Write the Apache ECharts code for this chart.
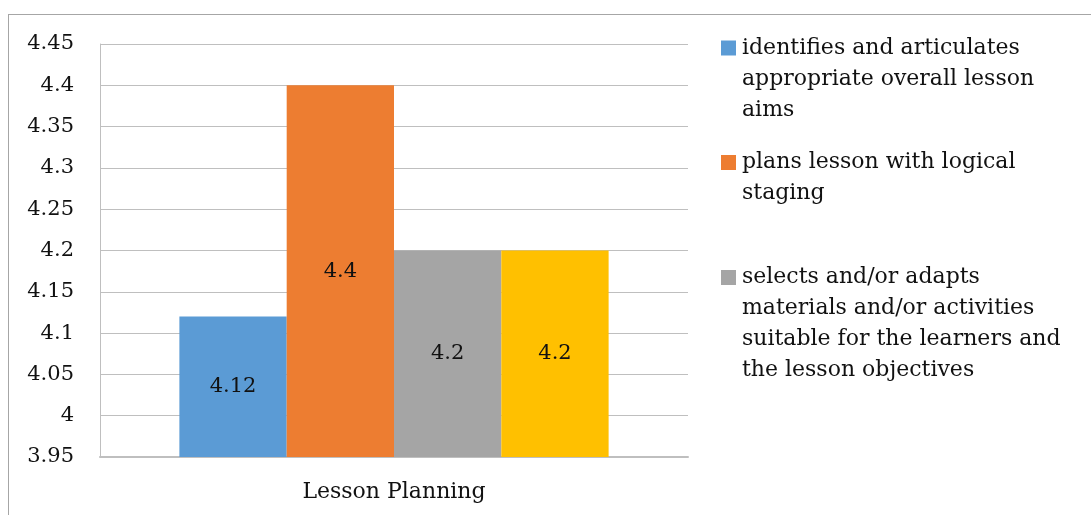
<!DOCTYPE html>
<html>
<head>
<meta charset="utf-8">
<script src="https://cdn.jsdelivr.net/npm/echarts@6/dist/echarts.min.js"></script>
<style>
  html, body { margin: 0; padding: 0; background: #fff; }
  .frame { position: absolute; left: 8px; top: 14px; width: 1100px; height: 520px;
           border-left: 1px solid #a6a6a6; border-top: 1px solid #a6a6a6; }
  .chart { position: absolute; left: 0; top: 0; width: 1091px; height: 515px; }
</style>
</head>
<body>
<div class="frame"></div>
<div class="chart"></div>
<script>
const categories = ['Lesson Planning'];
const seriesNames = [
  'identifies and articulates appropriate overall lesson aims',
  'plans lesson with logical staging',
  'selects and/or adapts materials and/or activities suitable for the learners and the lesson objectives',
  'series 4'
];
const legendLines = [
  'identifies and articulates\nappropriate overall lesson\naims',
  'plans lesson with logical\nstaging',
  'selects and/or adapts\nmaterials and/or activities\nsuitable for the learners and\nthe lesson objectives'
];
const values = [[4.12], [4.4], [4.2], [4.2]];
const colors = ['#5b9bd5', '#ed7d31', '#a5a5a5', '#ffc000'];

const font = 'DejaVu Serif';
const fs = 21;
const lh = 31;
// centre of the legend square / first text line
const legendCentres = [48, 162.5, 277.5];

const chart = echarts.init(document.querySelector('.chart'));

// the icon is centred on the text block, so blank lines are put in front
// to make the first real line sit in the middle
const legends = legendCentres.map((c, i) => {
  const n = legendLines[i].split('\n').length;
  return {
    data: [seriesNames[i]],
    left: 721,
    top: c - (2 * n - 1) * lh / 2,
    icon: 'rect',
    itemWidth: 15,
    itemHeight: 15,
    padding: 0,
    formatter: () => '\n'.repeat(n - 1) + legendLines[i],
    textStyle: { fontFamily: font, fontSize: 22, color: '#111', lineHeight: lh, padding: [0, 0, 0, 1] }
  };
});

chart.setOption({
  animation: false,
  color: colors,
  textStyle: { fontFamily: font },
  grid: { left: 100, top: 44, right: 403, bottom: 58 },
  legend: legends,
  xAxis: {
    type: 'category',
    data: categories,
    axisTick: { show: false },
    axisLine: { lineStyle: { color: '#bfbfbf', width: 2 } },
    axisLabel: { fontSize: 22, color: '#111', margin: 24, fontFamily: font }
  },
  yAxis: {
    type: 'value',
    min: 3.95,
    max: 4.45,
    interval: 0.05,
    axisLine: { show: true, lineStyle: { color: '#bfbfbf' } },
    axisTick: { show: false },
    splitLine: { lineStyle: { color: '#bfbfbf' } },
    axisLabel: {
      fontSize: fs,
      color: '#111',
      margin: 26,
      fontFamily: font,
      formatter: v => String(+v.toFixed(2))
    }
  },
  series: seriesNames.map((name, i) => ({
    name: name,
    type: 'bar',
    data: values[i],
    barGap: 0,
    barCategoryGap: '27%',
    label: {
      show: true,
      position: 'inside',
      fontSize: fs,
      color: '#111',
      fontFamily: font,
      formatter: p => String(p.value)
    }
  }))
});
</script>
</body>
</html>
